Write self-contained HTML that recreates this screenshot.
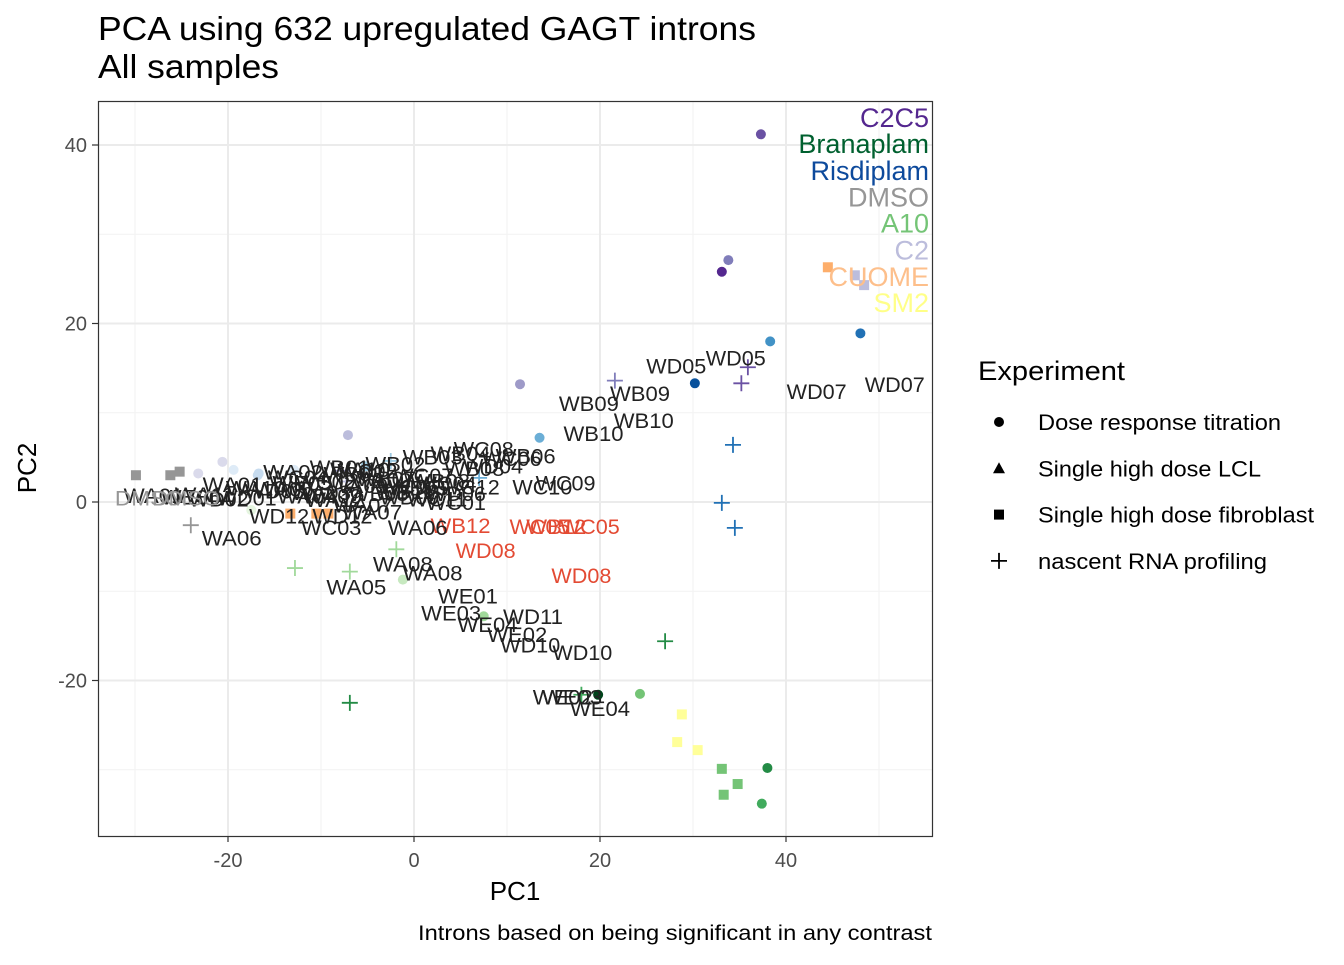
<!DOCTYPE html>
<html><head><meta charset="utf-8"><style>
body{margin:0;background:#fff;}
svg{font-family:"Liberation Sans",sans-serif;}
</style></head><body>
<svg id="chart" width="1344" height="960">
<text x="98" y="40" font-size="33" fill="#000" textLength="658" lengthAdjust="spacingAndGlyphs">PCA using 632 upregulated GAGT introns</text>
<text x="98" y="78" font-size="33" fill="#000" textLength="181" lengthAdjust="spacingAndGlyphs">All samples</text>
<g id="grid"></g><g id="marks"></g><g id="labels"></g>
<rect x="98.5" y="101.5" width="834" height="735" fill="none" stroke="#333" stroke-width="1.2"/>
<g id="axes"></g>
<text x="515" y="900" font-size="26" text-anchor="middle">PC1</text>
<text transform="translate(36,468) rotate(-90)" font-size="26" text-anchor="middle">PC2</text>
<text x="932" y="940" font-size="21" text-anchor="end" textLength="514" lengthAdjust="spacingAndGlyphs">Introns based on being significant in any contrast</text>
<g id="legend">
<text x="978" y="380" font-size="27" textLength="147" lengthAdjust="spacingAndGlyphs">Experiment</text>
</g>
</svg>
<script>
const xTicks=[-20,0,20,40];
const yTicks=[-20,0,20,40];
const xMinor=[-30,-10,10,30,50];
const yMinor=[-30,-10,10,30];
const ptX=[37.3,33.8,33.1,11.4,-7.1,-20.6,-29.9,-26.2,-25.2,48,38.3,30.2,13.5,-5.2,-16.7,-12.9,44.5,-13.3,-10.5,-9.2,47.4,48.4,28.8,28.3,30.5,33.1,33.3,34.8,38,37.4,19.8,24.3,7.5,-1.2,-17.5,21.6,35.9,35.2,34.3,33.1,34.5,27,-6.9,18,-1.9,-12.8,-6.9,-24,-7.3,-7.3,-7.8,-2.5,-16.8,7,-23.2,-19.4];
const ptY=[41.2,27.1,25.8,13.2,7.5,4.5,3.0,3.0,3.4,18.9,18.0,13.3,7.2,4.0,3.2,3.6,26.3,-1.3,-1.3,-1.3,25.4,24.3,-23.8,-26.9,-27.8,-29.9,-32.8,-31.6,-29.8,-33.8,-21.6,-21.5,-12.8,-8.7,-0.9,13.6,15.1,13.3,6.4,-0.1,-2.9,-15.6,-22.5,-21.6,-5.3,-7.4,-7.8,-2.6,2.3,1.3,3.5,4.6,3.0,2.7,3.2,3.6];
const ptCol=["#6a51a3","#807dba","#54278f","#9e9ac8","#bcbddc","#dadaeb","#969696","#969696","#969696","#2171b5","#4292c6","#08519c","#6baed6","#9ecae1","#c6dbef","#deebf7","#fdae6b","#fdae6b","#fdae6b","#fdae6b","#bcbddc","#bcbddc","#ffff99","#ffff99","#ffff99","#74c476","#74c476","#74c476","#238b45","#41ab5d","#00441b","#74c476","#a1d99b","#c7e9c0","#e5f5e0","#807dba","#6a51a3","#6a51a3","#2171b5","#2171b5","#2171b5","#238b45","#238b45","#41ab5d","#a1d99b","#a1d99b","#a1d99b","#969696","#bcbddc","#bcbddc","#9e9ac8","#9ecae1","#c6dbef","#6baed6","#dadaeb","#deebf7"];
const ptShape=["c","c","c","c","c","c","s","s","s","c","c","c","c","c","c","c","s","s","s","s","s","s","s","s","s","s","s","s","c","c","c","c","c","c","c","p","p","p","p","p","p","p","p","p","p","p","p","p","p","p","p","p","c","p","c","c"];
const labText=["WD05","WD05","WD07","WD07","WB09","WB09","WB10","WB10","WC09","WC10","WC01","WC12","WB12","WC05","WB12","WC05","WD08","WD08","WA06","WC03","WA06","WA08","WA08","WA05","WE01","WE03","WD11","WE04","WE02","WD10","WD10","WE03","WE02","WE04","WD12","WD12","WA07","WA07","WB06","WC08","WB04","WB03","WB02","WC06","WA02","WA01","WB01","WC02","WA03","WB05","WC04","WD01","WD02","WD03","WA04","WB07","WC07","WB08","WD04","WD06","WD09","WA09","WA10","WA11","WA12","WB11","WC11","WE05","WE06","WA01","WA02","WB03","WC02","WA05","WB05","WC06","WA09","WB08","WC04","WA10"];
const labX=[28.2,34.6,43.3,51.7,24.3,18.8,24.7,19.3,16.3,13.8,4.5,6.0,5.0,13.5,15.3,18.9,7.7,18.0,-19.6,-8.9,0.4,-1.2,2.0,-6.2,5.8,4.0,12.8,7.9,11.1,12.5,18.1,17.0,16.0,20.0,-14.5,-7.7,-4.5,-5.5,12.0,7.5,5.0,2.0,-2.0,10.5,-13.0,-28.0,-8.0,-5.0,-10.0,0.5,3.5,-18.0,-21.0,-15.0,-11.5,-3.0,1.0,6.5,8.5,4.5,-0.5,-6.0,-17.0,-22.5,-8.5,-1.0,2.5,-12.0,-24.0,-19.5,-3.5,-6.5,-9.5,-14.0,-3.8,-0.5,-8.8,2.8,-12.5,-5.8];
const labY=[15.2,16.1,12.3,13.1,12.1,11.0,9.1,7.6,2.1,1.6,-0.1,1.6,-2.7,-2.8,-2.8,-2.8,-5.5,-8.3,-4.1,-2.9,-2.9,-7.0,-8.0,-9.6,-10.6,-12.5,-12.9,-13.8,-14.9,-16.1,-16.9,-21.9,-21.9,-23.2,-1.6,-1.6,-1.2,-0.4,5.1,5.9,5.4,5.0,4.2,4.8,3.3,0.7,3.8,3.4,1.0,1.5,2.0,0.4,0.3,1.2,0.6,2.6,2.9,3.7,4.0,0.9,0.5,1.8,1.5,0.8,0.2,1.1,0.3,2.1,0.5,1.9,2.4,3.1,2.2,1.4,0.9,1.7,0.6,2.3,2.7,3.6];
const labCol=["#222","#222","#222","#222","#222","#222","#222","#222","#222","#222","#222","#222","#e34a33","#e34a33","#e34a33","#e34a33","#e34a33","#e34a33"];
const grpText=["C2C5","Branaplam","Risdiplam","DMSO","A10","C2","CUOME","SM2"];
const grpCol=["#54278f","#00602f","#0d4a9c","#969696","#74c476","#bcbddc","#fdbf8b","#ffff88"];
const grpY=[43.0,40.1,37.1,34.1,31.2,28.2,25.2,22.3];
const legLabels=["Dose response titration","Single high dose LCL","Single high dose fibroblast","nascent RNA profiling"];
const legShapes=["c","t","s","p"];

const NS="http://www.w3.org/2000/svg";
const X=v=>414+v*9.3, Y=v=>502-v*8.925;
function mk(tag,attrs,parent){const e=document.createElementNS(NS,tag);for(const k in attrs)e.setAttribute(k,attrs[k]);parent.appendChild(e);return e;}
const grid=document.getElementById('grid'),marks=document.getElementById('marks'),labels=document.getElementById('labels'),axes=document.getElementById('axes'),legend=document.getElementById('legend');
xMinor.forEach(v=>{const l=mk('line',{x1:X(v),x2:X(v),y1:101,y2:836,stroke:'#f2f2f2','stroke-width':1},grid);});
yMinor.forEach(v=>{const l=mk('line',{x1:98,x2:932,y1:Y(v),y2:Y(v),stroke:'#f2f2f2','stroke-width':1},grid);});
xTicks.forEach(v=>{const l=mk('line',{x1:X(v),x2:X(v),y1:101,y2:836,stroke:'#ebebeb','stroke-width':2},grid);
 const t=mk('line',{x1:X(v),x2:X(v),y1:836,y2:842,stroke:'#333','stroke-width':1.2},axes);
 const tx=mk('text',{x:X(v),y:867,'font-size':20,fill:'#4d4d4d','text-anchor':'middle'},axes);tx.textContent=v;});
yTicks.forEach(v=>{const l=mk('line',{x1:98,x2:932,y1:Y(v),y2:Y(v),stroke:'#ebebeb','stroke-width':2},grid);
 const t=mk('line',{x1:92,x2:98,y1:Y(v),y2:Y(v),stroke:'#333','stroke-width':1.2},axes);
 const tx=mk('text',{x:87,y:Y(v)+7,'font-size':20,fill:'#4d4d4d','text-anchor':'end'},axes);tx.textContent=v;});
function shape(s,cx,cy,col,parent){let e;
 if(s==='c')e=mk('circle',{cx:cx,cy:cy,r:5,fill:col},parent);
 else if(s==='s')e=mk('rect',{x:cx-5,y:cy-5,width:10,height:10,fill:col},parent);
 else if(s==='t')e=mk('polygon',{points:`${cx},${cy-6} ${cx-6},${cy+5} ${cx+6},${cy+5}`,fill:col},parent);
 else e=mk('path',{d:`M${cx-8},${cy}H${cx+8}M${cx},${cy-8}V${cy+8}`,stroke:col,'stroke-width':1.8,fill:'none'},parent);
 return e;}
ptX.forEach((v,i)=>{const e=shape(ptShape[i],X(v),Y(ptY[i]),ptCol[i],marks);
 
 });
labText.forEach((s,i)=>{const t=mk('text',{x:X(labX[i]),y:Y(labY[i])+7,'font-size':21,'textLength':60,'lengthAdjust':'spacingAndGlyphs',fill:labCol[i]||'#222','text-anchor':'middle'},labels);t.textContent=s;
 
 });
[["DMSO",-28.5],["DMSO",-24.5]].forEach(d=>{const t=mk('text',{x:X(d[1]),y:Y(0.4)+7,'font-size':21,'textLength':68,'lengthAdjust':'spacingAndGlyphs',fill:'#969696','text-anchor':'middle'},labels);t.textContent=d[0];
 
 });
grpText.forEach((s,i)=>{const t=mk('text',{x:929,y:Y(grpY[i])+9,'font-size':27,fill:grpCol[i],'text-anchor':'end'},labels);t.textContent=s;
 
 });
const legW=[243,223,276,229];
legLabels.forEach((s,i)=>{const y=422+i*46.3;const e=shape(legShapes[i],999,y,'#000',legend);
 
 
 const t=mk('text',{x:1038,y:y+8,'font-size':22,'textLength':legW[i],'lengthAdjust':'spacingAndGlyphs'},legend);t.textContent=s;
 
 });
</script>
</body></html>
